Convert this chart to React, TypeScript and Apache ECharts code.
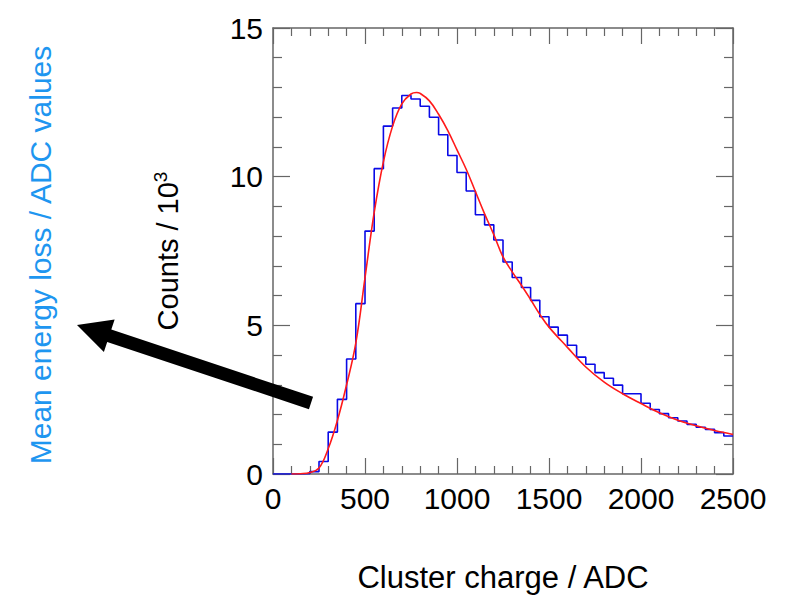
import React, { useEffect, useRef } from "react";
import * as echarts from "echarts";

// Histogram: 50 bins of width 50 ADC, from 0 to 2500 (counts / 10^3)
const binWidth = 50;
const binStart = 0;
const histCounts = [
  0, 0, 0, 0.01,
  0.08, 0.42, 1.41, 2.51, 3.87, 5.73, 8.17, 10.27, 11.7, 12.31,
  12.73, 12.61, 12.37, 12.0, 11.41, 10.71, 10.14, 9.52, 8.72, 8.38,
  7.87, 7.13, 6.61, 6.27, 5.84, 5.29, 4.94, 4.67, 4.33, 3.93,
  3.69, 3.41, 3.22, 2.99, 2.7, 2.7, 2.38, 2.17, 2.03, 1.89,
  1.78, 1.67, 1.57, 1.5, 1.39, 1.28,
];

// Fit curve (Landau-like)
const fitX = [
  100, 150, 200, 250, 300, 350, 400, 450, 500, 550, 600, 650, 700, 750, 780,
  800, 850, 900, 950, 1000, 1050, 1100, 1150, 1200, 1250, 1300, 1350, 1400,
  1450, 1500, 1600, 1700, 1800, 1900, 2000, 2100, 2200, 2300, 2400, 2500,
];
const fitY = [
  0, 0.01, 0.05, 0.2, 0.85, 1.8, 3.0, 4.4, 6.6, 8.8, 10.5, 11.7, 12.45, 12.78,
  12.83, 12.8, 12.55, 12.1, 11.55, 10.9, 10.25, 9.5, 8.75, 8.05, 7.3, 6.8,
  6.35, 5.87, 5.37, 4.94, 4.26, 3.6, 3.09, 2.7, 2.37, 2.06, 1.81, 1.62, 1.46,
  1.33,
];

const xMin = 0;
const xMax = 2500;
const xInterval = 500;
const yMin = 0;
const yMax = 15;
const yInterval = 5;

const xTitle = "Cluster charge / ADC";
const yTitle = "Counts / 10{sup|3}";
const annotation = "Mean energy loss / ADC values";

const FONT = "'Liberation Sans', Arial, Helvetica, sans-serif";
const FRAME = "#666666";

function arrowPoints(tip: number[], tail: number[], shaftHalf: number, headLen: number, headHalf: number) {
  const dx = tip[0] - tail[0];
  const dy = tip[1] - tail[1];
  const len = Math.hypot(dx, dy);
  const ux = dx / len;
  const uy = dy / len;
  const nx = -uy;
  const ny = ux;
  const bx = tip[0] - ux * headLen;
  const by = tip[1] - uy * headLen;
  return [
    [tail[0] + nx * shaftHalf, tail[1] + ny * shaftHalf],
    [bx + nx * shaftHalf, by + ny * shaftHalf],
    [bx + nx * headHalf, by + ny * headHalf],
    [tip[0], tip[1]],
    [bx - nx * headHalf, by - ny * headHalf],
    [bx - nx * shaftHalf, by - ny * shaftHalf],
    [tail[0] - nx * shaftHalf, tail[1] - ny * shaftHalf],
  ];
}

export default function App() {
  const ref = useRef<HTMLDivElement>(null);
  useEffect(() => {
    if (!ref.current) return;
    const chart = echarts.init(ref.current, undefined, { renderer: "svg" });

    const histData: number[][] = histCounts.map((v, i) => [binStart + i * binWidth, v]);
    histData.push([binStart + histCounts.length * binWidth, histCounts[histCounts.length - 1]]);
    const fitData = fitX.map((x, i) => [x, fitY[i]]);

    const axisCommon = {
      type: "value" as const,
      axisLine: { show: true, onZero: false, lineStyle: { color: FRAME, width: 1.5 } },
      splitLine: { show: false },
    };
    const plain = (v: number) => String(v);

    const option: any = {
      animation: false,
      backgroundColor: "#ffffff",
      grid: { left: 273, right: 61, top: 28, bottom: 132, containLabel: false },
      xAxis: [
        {
          ...axisCommon,
          position: "bottom",
          min: xMin,
          max: xMax,
          interval: xInterval,
          axisTick: { show: true, inside: true, length: 16, lineStyle: { color: FRAME, width: 1.2 } },
          minorTick: { show: true, splitNumber: 5, length: 8, lineStyle: { color: FRAME, width: 1.2 } },
          axisLabel: { show: true, fontSize: 30, color: "#000", fontFamily: FONT, margin: 9, formatter: plain },
          name: xTitle,
          nameLocation: "middle",
          nameGap: 88,
          nameTextStyle: { fontSize: 31, color: "#000", fontFamily: FONT },
        },
        {
          ...axisCommon,
          position: "top",
          min: xMin,
          max: xMax,
          interval: xInterval,
          axisTick: { show: true, inside: true, length: 16, lineStyle: { color: FRAME, width: 1.2 } },
          minorTick: { show: true, splitNumber: 5, length: 8, lineStyle: { color: FRAME, width: 1.2 } },
          axisLabel: { show: false },
        },
      ],
      yAxis: [
        {
          ...axisCommon,
          position: "left",
          min: yMin,
          max: yMax,
          interval: yInterval,
          axisTick: { show: true, inside: true, length: 17, lineStyle: { color: FRAME, width: 1.2 } },
          minorTick: { show: true, splitNumber: 5, length: 9, lineStyle: { color: FRAME, width: 1.2 } },
          axisLabel: { show: true, fontSize: 30, color: "#000", fontFamily: FONT, margin: 10, formatter: plain },
          name: yTitle,
          nameLocation: "middle",
          nameGap: 88,
          nameRotate: 90,
          nameTextStyle: {
            fontSize: 29,
            color: "#000",
            fontFamily: FONT,
            rich: {
              sup: { fontSize: 19, color: "#000", fontFamily: FONT, verticalAlign: "top", lineHeight: 34 },
            },
          },
        },
        {
          ...axisCommon,
          position: "right",
          min: yMin,
          max: yMax,
          interval: yInterval,
          axisTick: { show: true, inside: true, length: 17, lineStyle: { color: FRAME, width: 1.2 } },
          minorTick: { show: true, splitNumber: 5, length: 9, lineStyle: { color: FRAME, width: 1.2 } },
          axisLabel: { show: false },
        },
      ],
      series: [
        {
          type: "line",
          name: "histogram",
          data: histData,
          step: "end",
          showSymbol: false,
          symbol: "none",
          lineStyle: { color: "#0a0ae6", width: 1.6 },
          z: 3,
        },
        {
          type: "line",
          name: "fit",
          data: fitData,
          smooth: 0.4,
          showSymbol: false,
          symbol: "none",
          lineStyle: { color: "#ff1a1a", width: 1.6 },
          z: 4,
        },
      ],
      graphic: [
        {
          type: "polygon",
          shape: { points: arrowPoints([77, 325], [311, 403], 6.5, 34, 17) },
          style: { fill: "#000" },
          z: 10,
        },
        {
          type: "text",
          x: 40,
          y: 255,
          rotation: Math.PI / 2,
          style: {
            text: annotation,
            fontSize: 30,
            fontFamily: FONT,
            fill: "#1e96f0",
            align: "center",
            verticalAlign: "middle",
          },
          z: 10,
        },
      ],
    };

    chart.setOption(option);
    return () => chart.dispose();
  }, []);

  return <div ref={ref} style={{ width: 794, height: 606, position: "absolute", left: 0, top: 0 }} />;
}
